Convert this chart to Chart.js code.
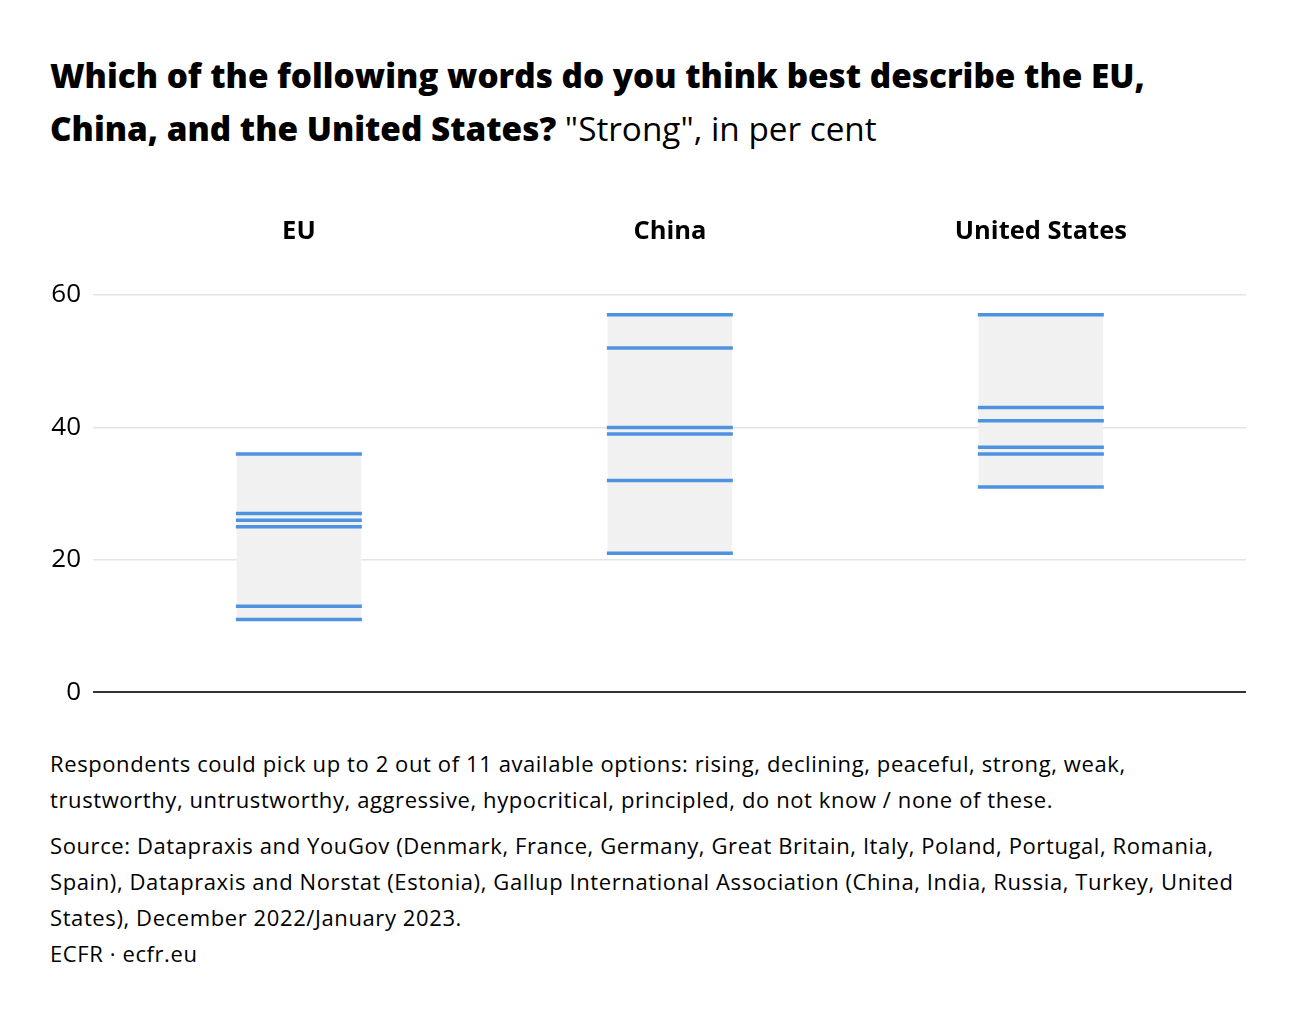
<!DOCTYPE html>
<html>
<head>
<meta charset="utf-8">
<script src="https://cdn.jsdelivr.net/npm/chart.js@4.4.1/dist/chart.umd.min.js"></script>
<style>
  html, body { margin:0; padding:0; background:#fff; }
  body { width:1300px; height:1020px; position:relative; font-family: "Open Sans", Lato, sans-serif; color:#000; }
  #title { position:absolute; left:50px; top:49px; font-size:33.3px; line-height:53px; font-weight:800; white-space:nowrap; }
  #title span { font-weight:400; }
  #c { position:absolute; left:40px; top:200px; }
  .note { position:absolute; left:50px; font-size:22px; line-height:36px; letter-spacing:0.6px; white-space:nowrap; }
</style>
</head>
<body>
<div id="title">Which of the following words do you think best describe the EU,<br>China, and the United States? <span>"Strong", in per cent</span></div>
<canvas id="c" width="1220" height="520"></canvas>
<div class="note" style="top:745px;">Respondents could pick up to 2 out of 11 available options: rising, declining, peaceful, strong, weak,<br>trustworthy, untrustworthy, aggressive, hypocritical, principled, do not know / none of these.</div>
<div class="note" style="top:827px;">Source: Datapraxis and YouGov (Denmark, France, Germany, Great Britain, Italy, Poland, Portugal, Romania,<br>Spain), Datapraxis and Norstat (Estonia), Gallup International Association (China, India, Russia, Turkey, United<br>States), December 2022/January 2023.<br>ECFR · ecfr.eu</div>
<script>
const categories = ["EU", "China", "United States"];
const euValues = [36, 27, 26, 25, 13, 11];
const chinaValues = [57, 52, 40, 39, 32, 21];
const usValues = [57, 43, 41, 37, 36, 31];
const yTicks = [0, 20, 40, 60];

const allValues = [euValues, chinaValues, usValues];
const rangeData = allValues.map((vals, i) => ({ x: i, y: [Math.min(...vals), Math.max(...vals)] }));
const pointData = [];
allValues.forEach((vals, i) => vals.forEach(v => pointData.push({ x: i, y: v })));

const ctx = document.getElementById('c');
new Chart(ctx, {
  data: {
    datasets: [
      {
        type: 'scatter',
        data: pointData,
        pointStyle: 'line',
        radius: 63,
        hoverRadius: 63,
        borderWidth: 3.5,
        borderColor: '#4f93e0',
        backgroundColor: '#4f93e0',
        clip: false,
        order: 0
      },
      {
        type: 'bar',
        data: rangeData,
        backgroundColor: '#f1f1f1',
        borderWidth: 0,
        barThickness: 124,
        grouped: false,
        order: 1
      }
    ]
  },
  options: {
    responsive: false,
    animation: false,
    devicePixelRatio: 1,
    layout: { autoPadding: false, padding: { right: 14, bottom: 11, top: 0, left: 0 } },
    plugins: { legend: { display: false }, tooltip: { enabled: false } },
    scales: {
      x: {
        type: 'linear',
        position: 'top',
        offset: false,
        min: -0.555,
        max: 2.553,
        afterBuildTicks: (s) => { s.ticks = categories.map((c, i) => ({ value: i })); },
        afterFit: (s) => { s.height = 95; },
        ticks: {
          callback: (v) => categories[v],
          font: { family: 'Open Sans', size: 25.5, weight: 'bold' },
          color: '#000',
          padding: 48,
          maxRotation: 0,
          autoSkip: false
        },
        grid: { display: false, drawTicks: false, offset: false },
        border: { display: false }
      },
      y: {
        type: 'linear',
        min: 0,
        max: 60,
        afterBuildTicks: (s) => { s.ticks = yTicks.map(v => ({ value: v })); },
        afterFit: (s) => { s.width = 53; },
        ticks: {
          font: { family: 'Open Sans', size: 26 },
          color: '#000',
          padding: 12
        },
        grid: {
          color: (c) => c.tick.value === 0 ? '#333' : '#e4e4e4',
          lineWidth: (c) => c.tick.value === 0 ? 2 : 1.5,
          drawTicks: false
        },
        border: { display: false }
      }
    }
  }
});
</script>
</body>
</html>
